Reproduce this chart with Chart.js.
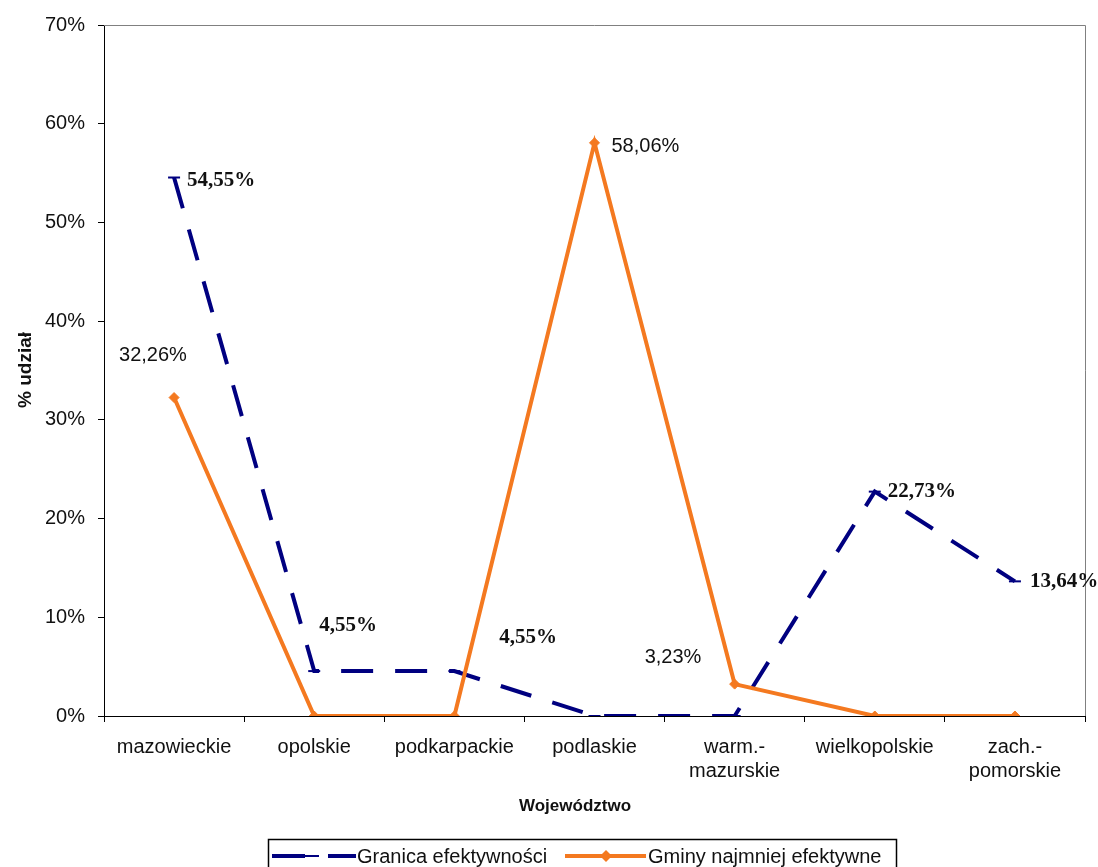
<!DOCTYPE html>
<html>
<head>
<meta charset="utf-8">
<script src="https://cdn.jsdelivr.net/npm/chart.js@4"></script>
<style>
  html, body { margin: 0; padding: 0; background: #fff; }
  #wrap { width: 1098px; height: 867px; }
</style>
</head>
<body>
<div id="wrap"><canvas id="c" width="1098" height="867"></canvas></div>
<script>
// Województwa (x-axis categories)
const categories = [
  'mazowieckie', 'opolskie', 'podkarpackie', 'podlaskie',
  ['warm.-', 'mazurskie'], 'wielkopolskie', ['zach.-', 'pomorskie']
];
// % udział per series
const granicaEfektywnosci = [54.55, 4.55, 4.55, 0, 0, 22.73, 13.64];
const gminyNajmniejEfektywne = [32.26, 0, 0, 58.06, 3.23, 0, 0];
const seriesNames = ['Granica efektywności', 'Gminy najmniej efektywne'];
const yTicks = [0, 10, 20, 30, 40, 50, 60, 70];

// which points carry a value label, and where the label sits relative to the point
const labelPlacement = [
  { 0: [13, 3], 1: [5, -46], 2: [45, -34], 5: [13, 0], 6: [15, 0] },
  { 0: [-55, -42], 3: [17, 4], 4: [-90, -27] }
];
const labelFonts = ['bold 21px "Liberation Serif"', '20px "Liberation Sans"'];

const NAVY = '#000080';
const ORANGE = '#F47920';
const fmt = v => v.toFixed(2).replace('.', ',') + '%';

const extras = {
  id: 'extras',
  beforeDatasetsDraw(chart) {
    const { ctx, chartArea: a } = chart;
    ctx.save();
    ctx.strokeStyle = '#808080';
    ctx.lineWidth = 1;
    ctx.beginPath();
    ctx.moveTo(a.left, a.top + 0.5);
    ctx.lineTo(a.right + 0.5, a.top + 0.5);
    ctx.lineTo(a.right + 0.5, a.bottom);
    ctx.stroke();
    ctx.restore();
  },
  afterDatasetsDraw(chart) {
    const { ctx } = chart;
    ctx.save();
    ctx.fillStyle = '#111';
    ctx.textBaseline = 'middle';
    ctx.textAlign = 'left';
    chart.data.datasets.forEach((ds, di) => {
      const meta = chart.getDatasetMeta(di);
      ctx.font = labelFonts[di];
      Object.keys(labelPlacement[di]).forEach(k => {
        const i = +k;
        const p = meta.data[i];
        const [dx, dy] = labelPlacement[di][k];
        ctx.fillText(fmt(ds.data[i]), p.x + dx, p.y + dy);
      });
    });
    ctx.restore();
  },
  afterDraw(chart) {
    const { ctx } = chart;
    ctx.save();
    // axis titles
    ctx.fillStyle = '#111';
    ctx.textAlign = 'center';
    ctx.textBaseline = 'middle';
    ctx.font = 'bold 17px "Liberation Sans"';
    ctx.fillText('Województwo', 575, 806);
    ctx.save();
    ctx.translate(26, 370);
    ctx.rotate(-Math.PI / 2);
    ctx.font = 'bold 19px "Liberation Sans"';
    ctx.fillText('% udział', 0, 0);
    ctx.restore();

    // legend
    ctx.strokeStyle = '#000';
    ctx.lineWidth = 1.5;
    ctx.strokeRect(268.5, 839.5, 628, 40);
    const ly = 856;
    ctx.lineCap = 'butt';
    ctx.strokeStyle = NAVY;
    ctx.lineWidth = 4;
    ctx.setLineDash([33, 23]);
    ctx.beginPath(); ctx.moveTo(272, ly); ctx.lineTo(356, ly); ctx.stroke();
    ctx.setLineDash([]);
    ctx.lineWidth = 2;
    ctx.beginPath(); ctx.moveTo(305, ly); ctx.lineTo(319, ly); ctx.stroke();

    ctx.strokeStyle = ORANGE;
    ctx.lineWidth = 4;
    ctx.beginPath(); ctx.moveTo(565, ly); ctx.lineTo(646, ly); ctx.stroke();
    ctx.fillStyle = ORANGE;
    ctx.beginPath();
    ctx.moveTo(606, ly - 6); ctx.lineTo(612, ly); ctx.lineTo(606, ly + 6); ctx.lineTo(600, ly);
    ctx.closePath(); ctx.fill();

    ctx.fillStyle = '#111';
    ctx.textAlign = 'left';
    ctx.font = '20px "Liberation Sans"';
    ctx.fillText(seriesNames[0], 357, ly + 1);
    ctx.fillText(seriesNames[1], 648, ly + 1);
    ctx.restore();
  }
};

new Chart(document.getElementById('c'), {
  type: 'line',
  data: {
    labels: categories,
    datasets: [
      {
        label: seriesNames[0],
        data: granicaEfektywnosci,
        borderColor: NAVY,
        backgroundColor: NAVY,
        borderWidth: 4,
        borderDash: [32, 22],
        pointStyle: 'line',
        pointRadius: 6,
        pointBorderWidth: 2,
        pointBorderColor: NAVY,
        tension: 0,
        fill: false,
        order: 1
      },
      {
        label: seriesNames[1],
        data: gminyNajmniejEfektywne,
        borderColor: ORANGE,
        backgroundColor: ORANGE,
        borderWidth: 4,
        pointStyle: 'rectRot',
        pointRadius: 5,
        pointBorderWidth: 1,
        pointBorderColor: ORANGE,
        tension: 0,
        fill: false,
        order: 0
      }
    ]
  },
  options: {
    responsive: false,
    animation: false,
    layout: { padding: { left: 0, right: 13, top: 24, bottom: 0 } },
    plugins: { legend: { display: false }, tooltip: { enabled: false } },
    scales: {
      x: {
        offset: true,
        afterFit(scale) { scale.height = 151; },
        grid: { offset: true, drawOnChartArea: false, drawTicks: true, tickLength: 6, color: '#000' },
        border: { color: '#000', width: 1 },
        ticks: { color: '#111', font: { family: 'Liberation Sans', size: 20 }, padding: 13, maxRotation: 0, autoSkip: false }
      },
      y: {
        min: 0,
        max: 70,
        afterFit(scale) { scale.width = 104; },
        afterBuildTicks(scale) { scale.ticks = yTicks.map(v => ({ value: v })); },
        grid: { drawOnChartArea: false, drawTicks: true, tickLength: 6, color: '#000' },
        border: { color: '#000', width: 1 },
        ticks: { color: '#111', font: { family: 'Liberation Sans', size: 20 }, padding: 13, callback: v => v + '%' }
      }
    }
  },
  plugins: [extras]
});
</script>
</body>
</html>
